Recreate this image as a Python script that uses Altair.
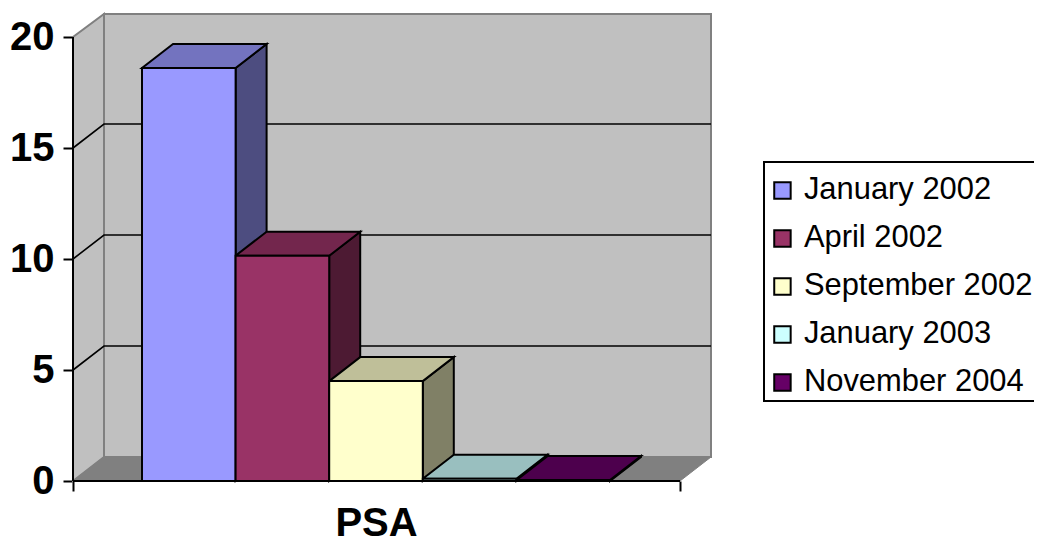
import altair as alt
import pandas as pd

months = ["January 2002", "April 2002", "September 2002", "January 2003", "November 2004"]
values = [18.6, 10.15, 4.5, 0.1, 0.04]
front_colors = ["#9999FF", "#993366", "#FFFFCC", "#CCFFFF", "#660066"]
top_colors = ["#7373BF", "#73264D", "#BFBF99", "#99BFBF", "#4D004D"]
side_colors = ["#4D4D80", "#4D1A33", "#808066", "#668080", "#330033"]
y_ticks = [0, 5, 10, 15, 20]
grid_values = [5, 10, 15]
category = "PSA"

FONT = "Liberation Sans"
W, H = 638, 467
FLOOR_W = 607
DX = 31
PX_PER_UNIT = (481 - 37) / 20
DY = 24 / PX_PER_UNIT
YMAX = H / PX_PER_UNIT
BAR_START = 69
BAR_W = 93.6

xs = alt.Scale(domain=[0, W], nice=False, zero=False)
ys = alt.Scale(domain=[0, YMAX], nice=False, zero=False)

x_axis = alt.Axis(values=[0, FLOOR_W], labels=False, grid=False, domain=False, ticks=True, tickColor="black",
                  tickSize=10, tickWidth=2, title=category, titleFont=FONT, titleFontSize=40,
                  titleFontWeight="bold", titleColor="black", titleX=303, titleY=42.5, titleBaseline="middle")
y_axis = alt.Axis(values=y_ticks, grid=False, domain=False, tickColor="black", tickSize=10, tickWidth=2,
                  labelFont=FONT, labelFontSize=40, labelFontWeight="bold", labelColor="black",
                  labelPadding=9, title=None)


def X():
    return alt.X("x:Q", scale=xs, axis=x_axis, stack=None)


def Y():
    return alt.Y("y:Q", scale=ys, axis=y_axis, stack=None)


# walls and floor
back = pd.DataFrame([{"x": DX, "x2": W, "y": DY, "y2": YMAX}])
left = pd.DataFrame([
    {"x": 0, "y": 0, "y2": 20},
    {"x": DX, "y": DY, "y2": YMAX},
])
floor = pd.DataFrame([
    {"y": 0, "x": 0, "x2": FLOOR_W},
    {"y": DY, "x": DX, "x2": W},
])

back_layer = alt.Chart(back).mark_rect(fill="#C0C0C0", stroke="#808080", strokeWidth=2).encode(
    x=X(), x2="x2:Q", y=Y(), y2="y2:Q",
)
left_layer = alt.Chart(left).mark_area(fill="#C0C0C0", stroke="#808080", strokeWidth=2).encode(
    x=X(), y=Y(), y2="y2:Q"
)
floor_layer = alt.Chart(floor).mark_area(fill="#808080", stroke="#808080", strokeWidth=1, orient="horizontal").encode(
    y=Y(), x=X(), x2="x2:Q"
)

# grid lines run across the left wall and along the back wall
grid_rows = []
for g in grid_values:
    grid_rows += [
        {"g": g, "s": 0, "x": 0, "y": g},
        {"g": g, "s": 1, "x": DX, "y": g + DY},
        {"g": g, "s": 2, "x": W, "y": g + DY},
    ]
grid_layer = alt.Chart(pd.DataFrame(grid_rows)).mark_line(color="black", strokeWidth=1.6).encode(
    x=X(), y=Y(), detail="g:N", order="s:Q"
)

# axis lines
y_line = alt.Chart(pd.DataFrame([{"x": 0, "y": 0, "y2": 20}])).mark_rule(color="black", strokeWidth=2).encode(
    x=X(), y=Y(), y2="y2:Q"
)
x_line = alt.Chart(pd.DataFrame([{"x": 0, "x2": FLOOR_W, "y": 0}])).mark_rule(color="black", strokeWidth=2).encode(
    x=X(), x2="x2:Q", y=Y()
)

# bars
front_rows, top_rows, side_rows = [], [], []
for i, (m, v) in enumerate(zip(months, values)):
    x0 = BAR_START + i * BAR_W
    x1 = x0 + BAR_W
    front_rows.append({"month": m, "x": x0, "x2": x1, "y": 0, "y2": v})
    top_rows += [
        {"month": m, "fill": top_colors[i], "y": v, "x": x0, "x2": x1},
        {"month": m, "fill": top_colors[i], "y": v + DY, "x": x0 + DX, "x2": x1 + DX},
    ]
    side_rows += [
        {"month": m, "fill": side_colors[i], "x": x1, "y": 0, "y2": v},
        {"month": m, "fill": side_colors[i], "x": x1 + DX, "y": DY, "y2": v + DY},
    ]

side_layer = alt.Chart(pd.DataFrame(side_rows)).mark_area(stroke="black", strokeWidth=2).encode(
    x=X(), y=Y(), y2="y2:Q", fill=alt.Fill("fill:N", scale=None), detail="month:N"
)
top_layer = alt.Chart(pd.DataFrame(top_rows)).mark_area(stroke="black", strokeWidth=2, orient="horizontal").encode(
    y=Y(), x=X(), x2="x2:Q", fill=alt.Fill("fill:N", scale=None), detail="month:N"
)
front_layer = alt.Chart(pd.DataFrame(front_rows)).mark_rect(stroke="black", strokeWidth=2).encode(
    x=X(), x2="x2:Q", y=Y(), y2="y2:Q",
    color=alt.Color(
        "month:N",
        sort=months,
        scale=alt.Scale(domain=months, range=front_colors),
        legend=alt.Legend(
            title=" ", titleFontSize=1, titlePadding=9,
            orient="none", legendX=691, legendY=148, padding=3,
            symbolType="square", symbolSize=270, symbolStrokeWidth=2, symbolStrokeColor="black",
            labelFont=FONT, labelFontSize=30.9, labelColor="black", labelOffset=6,
            rowPadding=16, strokeColor="black", fillColor="white",
            labelLimit=400, symbolOpacity=1,
        ),
    ),
)

chart = alt.layer(
    back_layer, left_layer, floor_layer, grid_layer, side_layer, top_layer, front_layer, y_line, x_line
).properties(
    width=W, height=H, background="white",
    padding={"left": 65, "top": 6, "right": 323, "bottom": 66},
    autosize=alt.AutoSizeParams(type="none"),
).configure_view(stroke=None).configure_legend(strokeWidth=2)

chart.save("out.html", embed_options={"renderer": "svg", "actions": False})
